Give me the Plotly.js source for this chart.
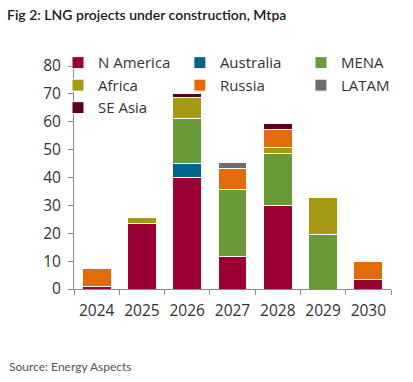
<!DOCTYPE html>
<html>
<head>
<meta charset="utf-8">
<script src="https://cdn.plot.ly/plotly-3.0.1.min.js"></script>
<style>html,body{margin:0;padding:0;background:#fff;}</style>
</head>
<body>
<div id="chart" style="width:413px;height:382px;"></div>
<script>
const years = ['2024', '2025', '2026', '2027', '2028', '2029', '2030'];
const nAmerica = [1, 23.5, 40, 11.7, 30, null, 3.5];
const australia = [null, null, 5, null, null, null, null];
const mena = [null, null, 16, 24, 18.5, 19.7, null];
const africa = [null, 2, 7.8, null, 2.4, 13, null];
const russia = [6.5, null, null, 7.4, 6.4, null, 6.2];
const latam = [null, null, null, 2.3, null, null, null];
const seAsia = [null, null, 1.2, null, 2, null, null];

const seriesNames = ['N America', 'Australia', 'MENA', 'Africa', 'Russia', 'LATAM', 'SE Asia'];
const seriesValues = [nAmerica, australia, mena, africa, russia, latam, seAsia];
const seriesColors = ['#9B0034', '#00648C', '#689A35', '#A69914', '#E36C0A', '#6D6D6D', '#5C0023'];
const legendColumn = ['legend', 'legend2', 'legend3', 'legend', 'legend2', 'legend3', 'legend'];

const traces = seriesNames.map((name, i) => ({
  type: 'bar',
  name: name,
  x: years,
  y: seriesValues[i],
  legend: legendColumn[i],
  marker: {color: seriesColors[i], line: {color: '#ffffff', width: 1}},
  hoverinfo: 'x+y+name'
}));

function legendAt(x) {
  return {
    orientation: 'v',
    traceorder: 'normal',
    x: x,
    xanchor: 'left',
    y: 1.088,
    yanchor: 'top',
    font: {size: 15, color: '#333333'},
    bgcolor: 'rgba(0,0,0,0)',
    tracegroupgap: 0,
    itemclick: false
  };
}

const layout = {
  width: 413,
  height: 382,
  margin: {l: 74, r: 22, t: 66, b: 93, autoexpand: false},
  paper_bgcolor: '#ffffff',
  plot_bgcolor: '#ffffff',
  barmode: 'stack',
  bargap: 0.36,
  font: {family: 'Open Sans, sans-serif', color: '#333333', size: 15},
  title: {
    text: 'Fig 2: LNG projects under construction, Mtpa',
    font: {family: 'Lato, sans-serif', size: 14, color: '#1a1a1a', weight: 600},
    x: 7 / 413, xanchor: 'left', xref: 'container',
    y: 1 - 15 / 382, yanchor: 'middle', yref: 'container'
  },
  xaxis: {
    type: 'category',
    showgrid: false,
    showline: true,
    linecolor: '#8c8c8c',
    linewidth: 1,
    ticks: 'outside',
    tickson: 'boundaries',
    ticklen: 5,
    tickcolor: '#8c8c8c',
    tickfont: {size: 15.5, color: '#333333'},
    ticklabelstandoff: 7,
    zeroline: false
  },
  yaxis: {
    range: [0, 80],
    dtick: 10,
    showgrid: false,
    showline: true,
    linecolor: '#8c8c8c',
    linewidth: 1,
    ticks: 'outside',
    ticklen: 5,
    tickcolor: '#8c8c8c',
    tickfont: {size: 15.5, color: '#333333'},
    ticklabelstandoff: 4,
    zeroline: false
  },
  showlegend: true,
  legend: legendAt(-0.0505),
  legend2: legendAt(0.334),
  legend3: legendAt(0.716),
  annotations: [{
    text: 'Source: Energy Aspects',
    xref: 'paper', yref: 'paper',
    x: -67 / 317, xanchor: 'left',
    y: -77 / 223, yanchor: 'middle',
    showarrow: false,
    font: {family: 'Lato, sans-serif', size: 12, color: '#555555'}
  }]
};

Plotly.newPlot('chart', traces, layout, {displayModeBar: false, staticPlot: true});
</script>
</body>
</html>
